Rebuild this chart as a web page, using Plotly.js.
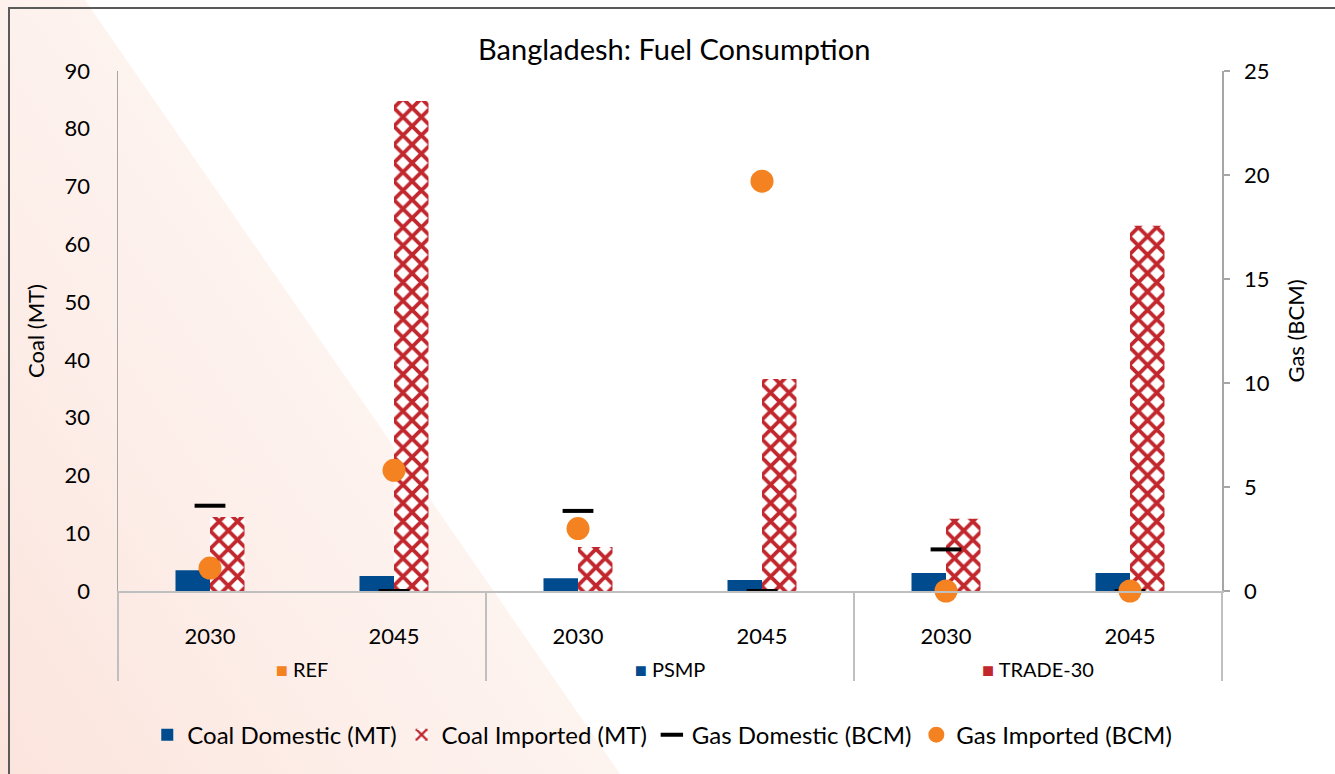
<!DOCTYPE html>
<html>
<head>
<meta charset="utf-8">
<script src="https://cdn.plot.ly/plotly-3.0.1.min.js"></script>
<style>
  html, body { margin: 0; padding: 0; background: #ffffff; }
  #wedge {
    position: absolute; left: 0; top: 0; width: 1335px; height: 774px;
    clip-path: polygon(0 0, 85px 0, 620px 774px, 0 774px);
    background: linear-gradient(56deg, #fbe4dc 0%, #fdeee9 20%, #fdf3ef 33%, #ffffff 60%);
  }
  #frame {
    position: absolute; left: 8px; top: 7px; width: 1335px; height: 800px;
    border-top: 2px solid #5a5a5a; border-left: 2px solid #5a5a5a;
  }
  #plot { position: absolute; left: 0; top: 0; width: 1335px; height: 774px; }
</style>
</head>
<body>
<div id="wedge"></div>
<div id="frame"></div>
<div id="plot"></div>
<script>
// scenarios and years (two-level category axis)
const scenarioNames = ['REF', 'PSMP', 'TRADE-30'];
const years = ['2030', '2045'];

// values per scenario/year, in order REF 2030, REF 2045, PSMP 2030, ...
const coalDomestic = [3.6, 2.6, 2.2, 1.9, 3.1, 3.1];
const coalImported = [12.8, 84.8, 7.6, 36.7, 12.5, 63.2];
const gasDomestic = [4.1, 0, 3.85, 0, 2.0, 0];
const gasImported = [1.1, 5.8, 3.0, 19.7, 0, 0];

const blue = '#004b8d';
const red = '#c1272d';
const orange = '#f58220';
const swatch = { 'REF': orange, 'PSMP': blue, 'TRADE-30': red };

// group labels get the small coloured square in front, like the original
// (leading <br> pushes the second row further below the years)
function groupLabel(name) {
    return "<br><span style='font-size:20px'><span style='color:" + swatch[name] + "'>■</span> " + name + "</span>";
}

let groupRow = [], yearRow = [];
scenarioNames.forEach(s => {
    years.forEach(y => {
        groupRow.push(groupLabel(s));
        yearRow.push(y);
    });
});
let xcats = [groupRow, yearRow];

let font = 'Lato, "Open Sans", sans-serif';

let traces = [
    {
        type: 'bar', name: 'Coal Domestic (MT)', x: xcats, y: coalDomestic,
        marker: { color: blue, line: { width: 0 } }
    },
    {
        type: 'bar', name: 'Coal Imported (MT)', x: xcats, y: coalImported,
        marker: {
            color: '#ffffff', line: { width: 0 },
            pattern: { shape: 'x', fgcolor: red, bgcolor: '#ffffff', size: 13, solidity: 0.5, fillmode: 'replace' }
        }
    },
    {
        type: 'scatter', mode: 'markers', name: 'Gas Domestic (BCM)', x: xcats, y: gasDomestic,
        yaxis: 'y2', cliponaxis: false,
        marker: { symbol: 'line-ew', size: 22, color: '#000000', line: { width: 4, color: '#000000' } }
    },
    {
        type: 'scatter', mode: 'markers', name: 'Gas Imported (BCM)', x: xcats, y: gasImported,
        yaxis: 'y2', cliponaxis: false,
        marker: { symbol: 'circle', size: 23, color: orange }
    }
];

let layout = {
    width: 1335,
    height: 774,
    margin: { l: 118, r: 113, t: 71, b: 183 },
    paper_bgcolor: 'rgba(0,0,0,0)',
    plot_bgcolor: 'rgba(0,0,0,0)',
    font: { family: font, color: '#000000', size: 22 },
    title: {
        text: 'Bangladesh: Fuel Consumption',
        font: { family: font, size: 29, color: '#000000' },
        x: 0.505, xanchor: 'center', y: 0.935, yanchor: 'middle'
    },
    barmode: 'group',
    bargap: 0.625,
    bargroupgap: 0,
    showlegend: true,
    legend: {
        orientation: 'h', x: 0.493, xanchor: 'center', y: -0.277, yanchor: 'middle',
        font: { family: font, size: 24 }, bgcolor: 'rgba(0,0,0,0)', traceorder: 'normal'
    },
    xaxis: {
        type: 'multicategory',
        showline: true, linecolor: '#bfbfbf', linewidth: 1.5,
        showgrid: false, zeroline: false,
        showdividers: true, dividercolor: '#bfbfbf', dividerwidth: 1.5,
        ticklabelstandoff: 25,
        tickfont: { family: font, size: 22 }
    },
    yaxis: {
        range: [0, 90], dtick: 10,
        showline: true, linecolor: '#a6a6a6', linewidth: 1.5,
        showgrid: false, zeroline: false, ticks: '',
        tickfont: { family: font, size: 22 },
        ticklabelstandoff: 22,
        title: { text: 'Coal (MT)', font: { family: font, size: 22 }, standoff: 14 }
    },
    yaxis2: {
        range: [0, 25], dtick: 5, overlaying: 'y', side: 'right',
        showline: true, linecolor: '#a6a6a6', linewidth: 1.5,
        showgrid: false, zeroline: false,
        ticks: 'outside', ticklen: 6, tickcolor: '#a6a6a6', tickwidth: 1.5,
        tickfont: { family: font, size: 22 },
        ticklabelstandoff: 10,
        title: { text: 'Gas (BCM)', font: { family: font, size: 22 }, standoff: 20 }
    }
};

Plotly.newPlot('plot', traces, layout, { displayModeBar: false, staticPlot: true });
</script>
</body>
</html>
